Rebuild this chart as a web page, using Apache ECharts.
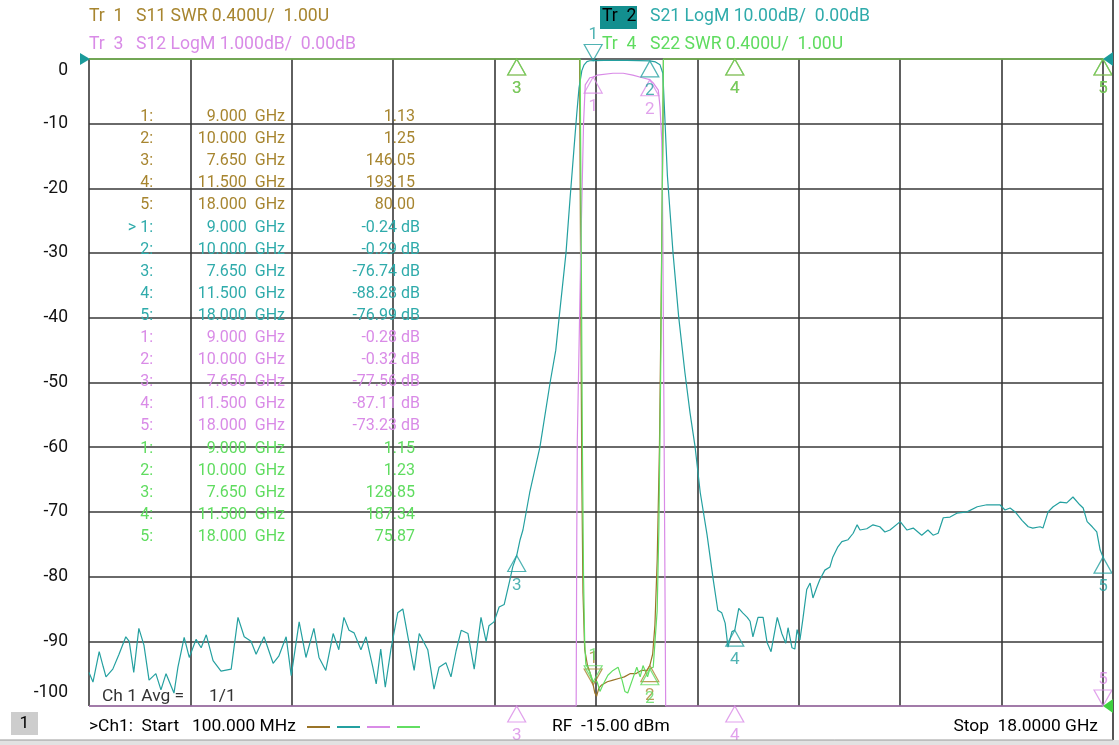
<!DOCTYPE html>
<html><head><meta charset="utf-8">
<script src="https://cdn.jsdelivr.net/npm/echarts@6/dist/echarts.min.js"></script>
<style>html,body{margin:0;padding:0;background:#fff;}#c{width:1119px;height:745px;}</style>
</head><body><div id="c"></div>
<script>
// ---------------- data ----------------
// S21 LogM (dB) : [freq GHz, dB]
const s21Data = [[0.10,-94.8],[0.17,-96.3],[0.28,-91.6],[0.35,-93.9],[0.40,-95.5],[0.52,-94.3],[0.63,-92.0],[0.75,-89.3],[0.81,-90.0],[0.89,-94.8],[0.98,-88.0],[1.07,-90.6],[1.16,-96.0],[1.28,-95.0],[1.37,-97.5],[1.46,-95.0],[1.60,-98.0],[1.67,-94.0],[1.78,-89.4],[1.87,-92.5],[1.99,-89.7],[2.08,-91.0],[2.17,-89.0],[2.29,-93.0],[2.43,-94.6],[2.61,-94.3],[2.73,-86.3],[2.84,-89.3],[2.96,-90.0],[3.05,-92.0],[3.19,-89.3],[3.35,-93.4],[3.45,-92.3],[3.58,-89.3],[3.67,-95.3],[3.81,-87.0],[3.93,-92.5],[4.07,-88.0],[4.16,-92.5],[4.28,-94.5],[4.41,-88.8],[4.51,-91.3],[4.60,-86.3],[4.69,-88.3],[4.78,-88.7],[4.90,-91.3],[4.99,-89.3],[5.11,-94.0],[5.17,-96.6],[5.25,-91.2],[5.33,-97.1],[5.43,-91.2],[5.55,-85.6],[5.64,-85.0],[5.73,-89.3],[5.84,-94.5],[5.93,-88.8],[6.08,-91.3],[6.19,-97.4],[6.28,-94.0],[6.40,-93.3],[6.49,-95.5],[6.58,-91.5],[6.67,-88.3],[6.79,-88.8],[6.90,-94.3],[7.02,-86.3],[7.11,-90.0],[7.16,-87.6],[7.25,-87.0],[7.34,-84.7],[7.43,-84.3],[7.53,-80.5],[7.58,-78.5],[7.65,-76.74],[7.71,-74.3],[7.76,-72.8],[7.88,-67.0],[8.06,-60.0],[8.24,-50.0],[8.34,-45.0],[8.40,-39.9],[8.52,-30.0],[8.59,-21.8],[8.66,-14.0],[8.71,-8.5],[8.75,-4.5],[8.80,-1.8],[8.84,-0.9],[8.89,-0.4],[8.94,-0.27],[9.00,-0.24],[9.20,-0.20],[9.40,-0.20],[9.60,-0.22],[9.80,-0.25],[10.00,-0.29],[10.10,-0.45],[10.18,-0.9],[10.23,-2.2],[10.27,-10.0],[10.31,-18.0],[10.36,-24.0],[10.41,-30.0],[10.51,-39.9],[10.62,-48.5],[10.71,-54.7],[10.80,-60.0],[10.89,-67.0],[11.01,-73.5],[11.12,-80.5],[11.20,-85.2],[11.27,-85.6],[11.33,-87.2],[11.38,-90.9],[11.45,-88.5],[11.50,-88.28],[11.57,-84.9],[11.64,-85.6],[11.72,-86.3],[11.77,-86.9],[11.82,-89.3],[11.91,-86.3],[12.00,-86.3],[12.07,-90.2],[12.14,-91.6],[12.25,-86.3],[12.33,-88.8],[12.40,-90.3],[12.44,-87.9],[12.51,-91.0],[12.56,-91.2],[12.60,-88.2],[12.65,-89.8],[12.70,-86.7],[12.77,-82.0],[12.83,-81.0],[12.88,-83.3],[12.95,-81.6],[13.00,-80.5],[13.09,-79.0],[13.18,-78.5],[13.23,-77.0],[13.32,-75.4],[13.39,-74.6],[13.50,-74.3],[13.59,-73.3],[13.66,-72.0],[13.71,-72.8],[13.83,-72.6],[13.94,-72.0],[14.06,-72.3],[14.15,-73.1],[14.24,-72.8],[14.42,-71.5],[14.54,-72.8],[14.65,-72.5],[14.80,-73.6],[14.91,-72.8],[15.00,-73.6],[15.09,-73.3],[15.18,-70.9],[15.30,-70.8],[15.42,-70.2],[15.60,-70.0],[15.78,-69.2],[15.95,-68.9],[16.18,-68.9],[16.27,-69.7],[16.36,-69.4],[16.45,-70.0],[16.57,-71.3],[16.68,-72.3],[16.76,-72.5],[16.89,-72.3],[16.94,-72.5],[17.03,-70.0],[17.12,-69.2],[17.24,-68.5],[17.36,-68.6],[17.47,-67.7],[17.59,-68.9],[17.65,-69.4],[17.72,-71.5],[17.81,-72.3],[17.89,-73.1],[17.95,-75.9],[18.00,-76.99]];
// S12 LogM (dB, 1 dB/div) as displayed (pinned at -10 when off screen)
const s12Data = [[0.10,-10],[8.70,-10],[8.71,-7.5],[8.72,-5.9],[8.76,-4.0],[8.78,-3.0],[8.80,-2.2],[8.83,-1.0],[8.86,-0.4],[8.94,-0.29],[9.00,-0.28],[9.07,-0.25],[9.35,-0.22],[9.53,-0.22],[9.70,-0.25],[9.87,-0.29],[10.00,-0.32],[10.06,-0.37],[10.15,-0.48],[10.18,-0.74],[10.21,-1.25],[10.22,-1.76],[10.23,-2.8],[10.25,-5.5],[10.27,-8.5],[10.28,-10],[18.00,-10]];
// S11 SWR as displayed (pinned at 5.00 when off screen)
const s11Data = [[0.10,5],[8.76,5],[8.78,3.6],[8.80,2.4],[8.82,1.7],[8.85,1.35],[8.90,1.25],[8.95,1.20],[9.00,1.13],[9.03,1.08],[9.06,1.06],[9.10,1.11],[9.15,1.13],[9.25,1.15],[9.35,1.16],[9.45,1.17],[9.55,1.18],[9.65,1.20],[9.75,1.20],[9.85,1.22],[9.95,1.22],[10.00,1.25],[10.05,1.32],[10.09,1.5],[10.13,1.9],[10.17,2.6],[10.20,3.5],[10.23,4.5],[10.24,5],[18.00,5]];
// S22 SWR as displayed
const s22Data = [[0.10,5],[8.77,5],[8.79,3.8],[8.81,2.6],[8.83,1.8],[8.85,1.4],[8.87,1.26],[8.94,1.21],[9.00,1.15],[9.07,1.15],[9.12,1.09],[9.17,1.13],[9.26,1.19],[9.35,1.22],[9.44,1.24],[9.51,1.16],[9.56,1.09],[9.61,1.08],[9.69,1.16],[9.77,1.24],[9.83,1.18],[9.88,1.25],[9.96,1.18],[10.00,1.23],[10.06,1.24],[10.09,1.39],[10.13,1.59],[10.16,2.1],[10.19,3.0],[10.22,4.2],[10.24,5],[18.00,5]];

const markerNames = ['1','2','3','4','5'];
const markerFreq = [9.0, 10.0, 7.65, 11.5, 18.0];
const s11Mk = [1.13, 1.25, 146.05, 193.15, 80.00];
const s21Mk = [-0.24, -0.29, -76.74, -88.28, -76.99];
const s12Mk = [-0.28, -0.32, -77.56, -87.11, -73.23];
const s22Mk = [1.15, 1.23, 128.85, 187.34, 75.87];

const headerLeft = ['Tr  1', 'S11 SWR 0.400U/  1.00U', 'Tr  3', 'S12 LogM 1.000dB/  0.00dB'];
const headerRight = ['Tr  2', 'S21 LogM 10.00dB/  0.00dB', 'Tr  4', 'S22 SWR 0.400U/  1.00U'];
const footer = ['>Ch1:  Start   100.000 MHz', 'RF  -15.00 dBm', 'Stop  18.0000 GHz', 'Ch 1 Avg =', '1/1', '1'];

// ---------------- style ----------------
const C11 = '#9a7428', C21 = '#24a0a0', C12 = '#d98be7', C22 = '#62de62';
const T11 = '#a7852f', T21 = '#2fabab', T12 = '#d98be7', T22 = '#5fdc5f';
const FONT = 'Roboto';
const UP = 'path://M10 0 L20 18 L0 18 Z', DOWN = 'path://M0 0 L20 0 L10 18 Z';

function markerSeries(vals, yIdx, lo, hi, color, down) {
  return {
    type: 'scatter', xAxisIndex: 0, yAxisIndex: yIdx, clip: false, silent: true, z: 5,
    symbolSize: [18, 16],
    itemStyle: { color: 'rgba(0,0,0,0)', borderColor: color, borderWidth: 1.2 },
    label: { show: true, formatter: '{b}', color: color, fontSize: 17, fontFamily: FONT },
    data: vals.map((v, i) => {
      const d = down[i];
      return {
        name: markerNames[i],
        value: [markerFreq[i], Math.min(hi, Math.max(lo, v))],
        symbol: d ? DOWN : UP,
        symbolOffset: [0, d ? -8 : 8],
        label: { position: d ? 'top' : 'bottom', distance: d ? 1 : 5 }
      };
    })
  };
}
function lineSeries(data, yIdx, color) {
  return { type: 'line', xAxisIndex: 0, yAxisIndex: yIdx, data: data, showSymbol: false, symbol: 'none',
    clip: false, silent: true, lineStyle: { color: color, width: 1.2 }, z: 3 };
}

// marker table rows
const tableRows = [];
function fmtF(f) { return f.toFixed(3) + '  GHz'; }
[[s11Mk, T11, 'swr'], [s21Mk, T21, 'db'], [s12Mk, T12, 'db'], [s22Mk, T22, 'swr']].forEach((t, ti) => {
  t[0].forEach((v, i) => tableRows.push({ idx: (ti === 1 && i === 0 ? '> ' : '') + markerNames[i] + ':', f: fmtF(markerFreq[i]),
    v: t[2] === 'db' ? v.toFixed(2) + ' dB' : v.toFixed(2), color: t[1], swr: t[2] === 'swr' }));
});

const graphics = [];
function txt(text, x, y, color, align, size) {
  graphics.push({ type: 'text', z: 50, silent: true, style: { text: text, x: x, y: y, fill: color,
    font: (size || 16) + 'px ' + FONT, textAlign: align || 'left', textVerticalAlign: 'middle' } });
}
tableRows.forEach((r, i) => {
  const y = 117 + i * 22.1;
  txt(r.idx, 153, y, r.color, 'right');
  txt(r.f, 285, y, r.color, 'right');
  txt(r.v, r.swr ? 415 : 420, y, r.color, 'right');
});
// headers
const HS = 17.6;
txt(headerLeft[0], 89, 17, T11, 'left', HS); txt(headerLeft[1], 136, 17, T11, 'left', HS);
txt(headerLeft[2], 89, 45, T12, 'left', HS); txt(headerLeft[3], 136, 45, T12, 'left', HS);
graphics.push({ type: 'rect', z: 49, silent: true, shape: { x: 600, y: 6, width: 37, height: 23 }, style: { fill: '#138f8f' } });
txt(headerRight[0], 602, 17, '#000', 'left', HS); txt(headerRight[1], 650, 17, T21, 'left', HS);
txt(headerRight[2], 602, 45, T22, 'left', HS); txt(headerRight[3], 650, 45, T22, 'left', HS);
// footer
const FS = 17.4;
txt(footer[3], 102, 697, '#333', 'left', FS); txt(footer[4], 209, 697, '#333', 'left', FS);
graphics.push({ type: 'rect', z: 49, silent: true, shape: { x: 11, y: 712, width: 27, height: 23 }, style: { fill: '#cdcdcd' } });
txt(footer[5], 24.5, 724, '#000', 'center', FS);
txt(footer[0], 89, 727, '#000', 'left', FS);
txt(footer[1], 552, 727, '#000', 'left', FS);
txt(footer[2], 1098, 727, '#000', 'right', FS);
[[C11, 307], [C21, 337], [C12, 367], [C22, 397]].forEach(d => graphics.push({ type: 'line', z: 49, silent: true,
  shape: { x1: d[1], y1: 727, x2: d[1] + 23, y2: 727 }, style: { stroke: d[0], lineWidth: 2 } }));
// reference-level indicators
graphics.push({ type: 'polygon', z: 49, silent: true, shape: { points: [[80, 53], [90, 59], [80, 65]] }, style: { fill: '#1a9a9a' } });
graphics.push({ type: 'polygon', z: 49, silent: true, shape: { points: [[1113, 52], [1103, 59], [1113, 66]] }, style: { fill: '#1a9a9a' } });
graphics.push({ type: 'polygon', z: 49, silent: true, shape: { points: [[1113, 699], [1103, 706], [1113, 713]] }, style: { fill: '#3fd03f' } });
// window frame
graphics.push({ type: 'line', z: 48, silent: true, shape: { x1: 1113, y1: 0, x2: 1113, y2: 740 }, style: { stroke: '#555', lineWidth: 2 } });
graphics.push({ type: 'rect', z: 48, silent: true, shape: { x: 0, y: 740, width: 1119, height: 5 }, style: { fill: '#e2e2e2' } });
graphics.push({ type: 'line', z: 48, silent: true, shape: { x1: 0, y1: 740, x2: 1113, y2: 740 }, style: { stroke: '#9a9a9a', lineWidth: 1 } });

const chart = echarts.init(document.getElementById('c'), null, { renderer: 'canvas' });
chart.setOption({
  animation: false,
  backgroundColor: '#fff',
  grid: { left: 89, top: 59, right: 16, bottom: 39, containLabel: false, outerBoundsMode: 'none' },
  xAxis: [
    { type: 'value', min: 0.1, max: 18, show: false },
    { type: 'value', min: 0, max: 10, interval: 1, axisLine: { show: false }, axisTick: { show: false }, axisLabel: { show: false },
      splitLine: { show: true, lineStyle: { color: '#383838', width: 1.6 } } }
  ],
  yAxis: [
    { type: 'value', min: -100, max: 0, interval: 10, axisLine: { show: false }, axisTick: { show: false },
      splitLine: { show: true, lineStyle: { color: '#383838', width: 1.6 } },
      axisLabel: { margin: 21, color: '#111', fontSize: 17.5, fontFamily: FONT,
        formatter: v => v === 0 ? '{t|0}' : (v === -100 ? '{b|-100}' : String(v)),
        rich: { t: { padding: [24, 0, 0, 0], fontSize: 17.5, fontFamily: FONT, color: '#111' },
                b: { padding: [0, 0, 26, 0], fontSize: 17.5, fontFamily: FONT, color: '#111' } } } },
    { type: 'value', min: -10, max: 0, show: false, splitLine: { show: false } },
    { type: 'value', min: 1, max: 5, show: false, splitLine: { show: false } }
  ],
  series: [
    lineSeries(s11Data, 2, C11),
    lineSeries(s21Data, 0, C21),
    lineSeries(s12Data, 1, C12),
    lineSeries(s22Data, 2, C22),
    markerSeries(s11Mk, 2, 1, 5, T11, [true, false, false, false, false]),
    markerSeries(s21Mk, 0, -100, 0, C21, [true, false, false, false, false]),
    markerSeries(s12Mk, 1, -10, 0, T12, [false, false, false, false, true]),
    markerSeries(s22Mk, 2, 1, 5, T22, [true, false, false, false, false])
  ],
  graphic: graphics
});
</script></body></html>
